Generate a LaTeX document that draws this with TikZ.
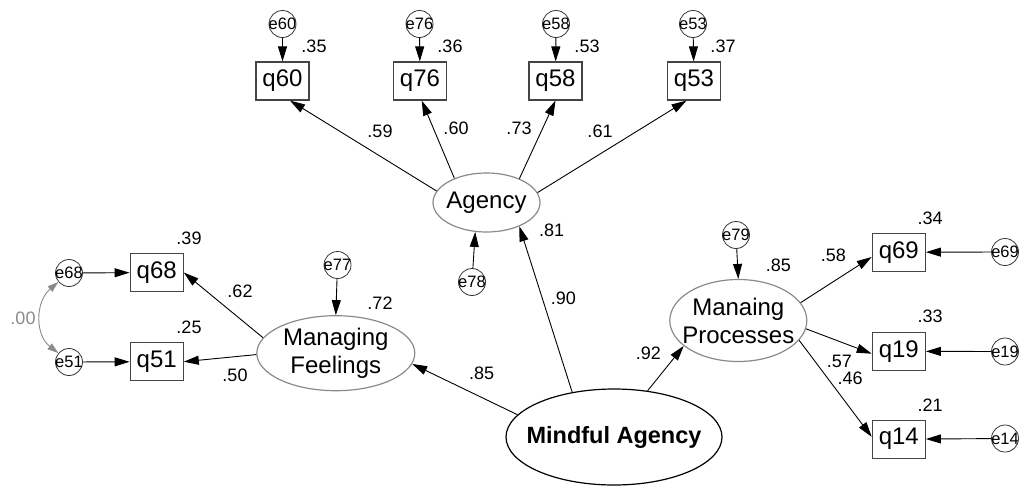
\documentclass[tikz,border=0pt]{standalone}
\usepackage{fontspec}
\setmainfont{Liberation Sans}
\usetikzlibrary{arrows.meta,shapes.geometric}
\definecolor{ellgray}{HTML}{8A8A8A}
\definecolor{boxgray}{HTML}{444444}
\definecolor{covgray}{HTML}{8A8A8A}
\begin{document}
\begin{tikzpicture}[x=1pt,y=-1pt,
 obs/.style={draw=boxgray,line width=1.2pt,minimum width=53pt,minimum height=38pt,inner sep=0pt,font=\fontsize{24}{28}\selectfont},
 err/.style={circle,draw=black!80,line width=0.8pt,minimum size=27pt,inner sep=-6pt,font=\fontsize{16.5}{16}\selectfont},
 lat/.style={ellipse,draw=ellgray,line width=1.2pt,inner xsep=-35pt,inner ysep=-14pt,align=center,font=\fontsize{24}{28}\selectfont},
 num/.style={inner sep=0pt,font=\fontsize{18}{18}\selectfont},
 arr/.style={-{Triangle[length=15pt,width=9pt]},line width=0.9pt},
 cov/.style={{Triangle[length=11pt,width=7pt]}-{Triangle[length=11pt,width=7pt]},draw=covgray,line width=0.9pt},
 ]
\useasboundingbox (0,0) rectangle (1019,488);
% latent variables
\node[lat,minimum width=107pt,minimum height=59pt] (ag) at (486.5,202.5) {Agency};
\node[lat,minimum width=158pt,minimum height=75pt] (mf) at (335.8,353.2) {Managing\\Feelings};
\node[lat,minimum width=137pt,minimum height=82pt] (mp) at (738.3,320.5) {Manaing\\Processes};
\node[lat,draw=black,minimum width=216pt,minimum height=96pt,font=\fontsize{23.5}{28}\selectfont\bfseries] (ma) at (614,437) {Mindful Agency};
% observed
\node[obs] (q60) at (282.5,81) {q60};
\node[obs] (q76) at (420,81) {q76};
\node[obs] (q58) at (555.5,81) {q58};
\node[obs] (q53) at (694,81) {q53};
\node[obs] (q68) at (156.7,272.5) {q68};
\node[obs] (q51) at (156.7,361.7) {q51};
\node[obs] (q69) at (898.8,252.2) {q69};
\node[obs] (q19) at (898.8,351.3) {q19};
\node[obs] (q14) at (898.8,439.2) {q14};
% errors
\node[err] (e60) at (282.5,24) {e60};
\node[err] (e76) at (419.5,24) {e76};
\node[err] (e58) at (556,24) {e58};
\node[err] (e53) at (693,24) {e53};
\node[err] (e78) at (472,282) {e78};
\node[err] (e77) at (337.5,265) {e77};
\node[err] (e79) at (736,235) {e79};
\node[err] (e68) at (69,273) {e68};
\node[err] (e51) at (69,362) {e51};
\node[err] (e69) at (1005,252) {e69};
\node[err] (e19) at (1005,351.5) {e19};
\node[err] (e14) at (1005,438.5) {e14};
% arrows
\draw[arr] (e60) -- (q60);
\draw[arr] (e76) -- (q76);
\draw[arr] (e58) -- (q58);
\draw[arr] (e53) -- (q53);
\draw[arr] (ag.167) -- (q60.291);
\draw[arr] (ag.143) -- (q76.275);
\draw[arr] (ag.36) -- (q58.south);
\draw[arr] (ag.11) -- (q53.249);
\draw[arr] (e78) -- (ag.249);
\draw[arr] (ma.133) -- (ag.324);
\draw[arr] (ma.167) -- (mf.352);
\draw[arr] (ma.54) -- (mp.205);
\draw[arr] (e77) -- (mf.north);
\draw[arr] (e79) -- (mp.north);
\draw[arr] (mf.168) -- (q68.east);
\draw[arr] (mf.181) -- (q51.east);
\draw[arr] (e68) -- (q68);
\draw[arr] (e51) -- (q51);
\draw[arr] (mp.16) -- (q69.190);
\draw[arr] (mp.353) -- (q19.185);
\draw[arr] (mp.342) -- (q14.175);
\draw[arr] (e69) -- (q69);
\draw[arr] (e19) -- (q19);
\draw[arr] (e14) -- (q14);
\draw[cov] (e51.140) .. controls (35,335) and (35,302) .. (e68.220);
% numbers
\node[num] (n35) at (314,46) {.35};
\node[num] (n36) at (450,46) {.36};
\node[num] (n53) at (587,46) {.53};
\node[num] (n37) at (723,46) {.37};
\node[num] (n59) at (380,131) {.59};
\node[num] (n60) at (456,128) {.60};
\node[num] (n73) at (519,128) {.73};
\node[num] (n61) at (600,131) {.61};
\node[num] (n81) at (551.7,230) {.81};
\node[num] (n90) at (563.3,298.3) {.90};
\node[num] (n85a) at (481.7,373.3) {.85};
\node[num] (n92) at (648.3,353.3) {.92};
\node[num] (n72) at (380,303) {.72};
\node[num] (n39) at (189,238) {.39};
\node[num] (n25) at (189,327) {.25};
\node[num] (n62) at (240,291.7) {.62};
\node[num] (n50) at (235,375) {.50};
\node[num,text=covgray] (n00) at (23,318) {.00};
\node[num] (n85b) at (778.3,265) {.85};
\node[num] (n58) at (833.3,255) {.58};
\node[num] (n57) at (839.3,361.7) {.57};
\node[num] (n46) at (850,378.3) {.46};
\node[num] (n34) at (930,218.3) {.34};
\node[num] (n33) at (930,316.7) {.33};
\node[num] (n21) at (930,405) {.21};
\end{tikzpicture}
\end{document}
